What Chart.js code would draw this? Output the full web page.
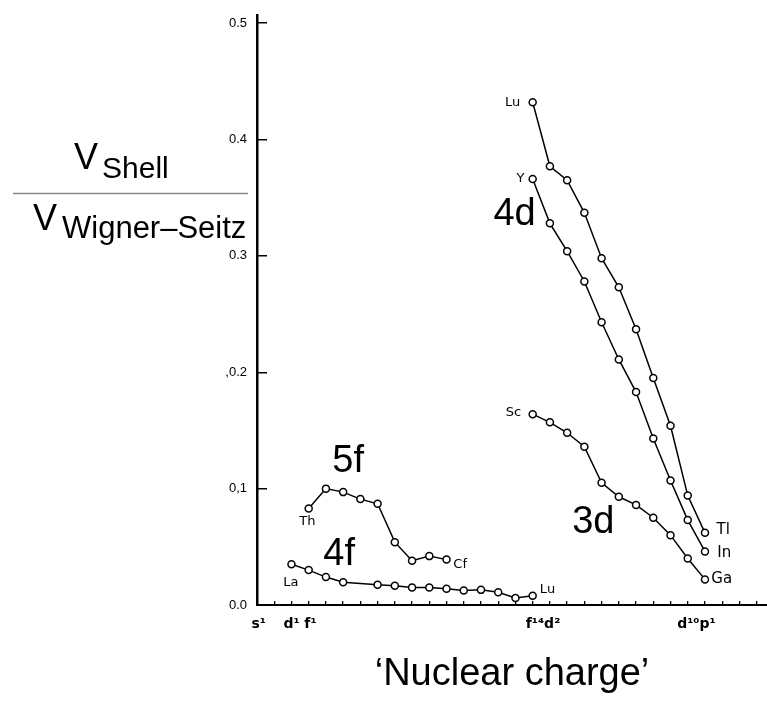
<!DOCTYPE html>
<html>
<head>
<meta charset="utf-8">
<script src="https://cdn.jsdelivr.net/npm/chart.js@4"></script>
<style>html,body{margin:0;padding:0;background:#fff;}canvas{display:block;}</style>
</head>
<body>
<canvas id="c" width="767" height="702"></canvas>
<script>
// ---- Data (x = position along 'nuclear charge' axis, y = V_shell / V_Wigner-Seitz) ----
const elements5d = ['Lu','Hf','Ta','W','Re','Os','Ir','Pt','Au','Hg','Tl'];
const positions5d = [16,17,18,19,20,21,22,23,24,25,26];
const values5d = [0.432,0.377,0.365,0.337,0.298,0.273,0.237,0.195,0.154,0.094,0.062];

const elements4d = ['Y','Zr','Nb','Mo','Tc','Ru','Rh','Pd','Ag','Cd','In'];
const positions4d = [16,17,18,19,20,21,22,23,24,25,26];
const values4d = [0.366,0.328,0.304,0.278,0.243,0.211,0.183,0.143,0.107,0.073,0.046];

const elements3d = ['Sc','Ti','V','Cr','Mn','Fe','Co','Ni','Cu','Zn','Ga'];
const positions3d = [16,17,18,19,20,21,22,23,24,25,26];
const values3d = [0.164,0.157,0.148,0.136,0.105,0.093,0.086,0.075,0.060,0.040,0.022];

const elements5f = ['Th','Pa','U','Np','Pu','Am','Cm','Bk','Cf'];
const positions5f = [3,4,5,6,7,8,9,10,11];
const values5f = [0.083,0.100,0.097,0.091,0.087,0.054,0.038,0.042,0.039];

const elements4f = ['La','Ce','Pr','Nd','Sm','Eu','Gd','Tb','Dy','Ho','Er','Tm','Yb','Lu'];
const positions4f = [2,3,4,5,7,8,9,10,11,12,13,14,15,16];
const values4f = [0.035,0.030,0.024,0.0195,0.0175,0.0165,0.015,0.015,0.014,0.0125,0.013,0.011,0.006,0.008];

// ---- Tick labels ----
const yTickValues = [0, 0.1, 0.2, 0.3, 0.4, 0.5];
const yTickLabels = ['0.0', '0,1', ',0.2', '0.3', '0.4', '0.5'];
const xLabelPositions = [0.1, 2, 3.1, 16.6, 25.5];
const xLabelTexts = ['s¹', 'd¹', 'f¹', 'f¹⁴d²', 'd¹⁰p¹'];
const xMinorTicks = [1,2,3,4,5,6,7,8,9,10,11,12,13,14,15,16,17,18,19,20,21,22,23,24,25,26,27,28,29];

// ---- Annotations (anchored in data coordinates) ----
const annotationTexts = ['Lu','Y','4d','Sc','3d','Tl','In','Ga','Lu','5f','Th','4f','Cf','La'];
const annotationX = [14.83,15.29,14.95,14.89,19.52,27.06,27.12,26.97,16.86,5.29,2.92,4.77,11.79,1.96];
const annotationY = [0.4317,0.3668,0.3359,0.165,0.0713,0.0644,0.0442,0.0219,0.0133,0.1237,0.0717,0.0438,0.0344,0.0193];
const annotationKind = ['s','s','b','s','b','m','m','m','s','b','s','b','s','s'];

function series(positions, values, names, label) {
  return {
    label: label,
    data: positions.map((p, i) => ({x: p, y: values[i], name: names[i]})),
    borderColor: '#000',
    borderWidth: 1.5,
    pointRadius: 3.5,
    pointBorderWidth: 1.5,
    pointBackgroundColor: '#fff',
    pointBorderColor: '#000',
    tension: 0,
    fill: false,
    clip: false
  };
}

function noPad(s) {
  s.paddingTop = 0; s.paddingBottom = 0; s.paddingLeft = 0; s.paddingRight = 0;
}

const annotationPlugin = {
  id: 'annot',
  afterDatasetsDraw(chart) {
    const ctx = chart.ctx, xs = chart.scales.x, ys = chart.scales.y;
    ctx.save();
    ctx.fillStyle = '#000';
    ctx.textAlign = 'center';
    ctx.textBaseline = 'middle';
    annotationTexts.forEach((t, i) => {
      const k = annotationKind[i];
      ctx.font = k === 'b' ? '38px "Liberation Sans", Arial, sans-serif'
               : k === 'm' ? '15px "DejaVu Sans", sans-serif'
               : '13px "DejaVu Sans", sans-serif';
      ctx.fillText(t, xs.getPixelForValue(annotationX[i]), ys.getPixelForValue(annotationY[i]));
    });
    ctx.restore();
  }
};

const yTitlePlugin = {
  id: 'ytitle',
  afterDraw(chart) {
    const ctx = chart.ctx;
    ctx.save();
    ctx.fillStyle = '#000';
    ctx.textAlign = 'left';
    ctx.textBaseline = 'alphabetic';
    ctx.font = '36px "Liberation Sans", Arial, sans-serif';
    ctx.fillText('V', 74, 169);
    ctx.fillText('V', 33, 230);
    ctx.font = '30px "Liberation Sans", Arial, sans-serif';
    ctx.fillText('Shell', 102, 178);
    ctx.font = '31px "Liberation Sans", Arial, sans-serif';
    ctx.fillText('Wigner–Seitz', 62, 238);
    ctx.strokeStyle = '#888';
    ctx.lineWidth = 1.3;
    ctx.beginPath();
    ctx.moveTo(13, 193.5);
    ctx.lineTo(248, 193.5);
    ctx.stroke();
    ctx.restore();
  }
};

new Chart(document.getElementById('c'), {
  type: 'line',
  data: {
    datasets: [
      series(positions5d, values5d, elements5d, '5d'),
      series(positions4d, values4d, elements4d, '4d'),
      series(positions3d, values3d, elements3d, '3d'),
      series(positions5f, values5f, elements5f, '5f'),
      series(positions4f, values4f, elements4f, '4f')
    ]
  },
  options: {
    responsive: false,
    animation: false,
    layout: {autoPadding: false, padding: {left: 197, top: 15, right: 0, bottom: 0}},
    plugins: {legend: {display: false}, tooltip: {enabled: false}},
    scales: {
      x: {
        type: 'linear', position: 'bottom', min: 0, max: 29.6, weight: 0,
        afterBuildTicks: s => { s.ticks = xMinorTicks.map(v => ({value: v})); },
        afterFit: s => { s.height = 0; noPad(s); },
        ticks: {display: false},
        grid: {drawOnChartArea: false, drawTicks: true, tickLength: -4, color: '#000', lineWidth: 1.3},
        border: {display: true, color: '#000', width: 2}
      },
      xl: {
        type: 'linear', position: 'bottom', min: 0, max: 29.6, weight: 1,
        afterBuildTicks: s => { s.ticks = xLabelPositions.map(v => ({value: v})); },
        afterFit: s => { s.height = 97; noPad(s); },
        ticks: {
          callback: (v, i) => xLabelTexts[i],
          autoSkip: false, maxRotation: 0, padding: 11, color: '#000',
          font: {family: '"DejaVu Sans"', size: 14, weight: 'bold'}
        },
        grid: {display: false, drawTicks: false},
        border: {display: false},
        title: {
          display: true, text: '‘Nuclear charge’', color: '#000',
          font: {family: '"Liberation Sans", Arial', size: 38},
          padding: {top: 0, bottom: 5}
        }
      },
      y: {
        type: 'linear', position: 'left', min: 0, max: 0.507,
        afterBuildTicks: s => { s.ticks = yTickValues.map(v => ({value: v})); },
        afterFit: s => { s.width = 60; noPad(s); },
        ticks: {
          callback: (v, i) => yTickLabels[i],
          padding: 20, color: '#000',
          font: {family: '"Liberation Sans", Arial', size: 13}
        },
        grid: {drawOnChartArea: false, drawTicks: true, tickLength: -10, color: '#000', lineWidth: 1.5},
        border: {display: true, color: '#000', width: 2.5}
      }
    }
  },
  plugins: [annotationPlugin, yTitlePlugin]
});
</script>
</body>
</html>
